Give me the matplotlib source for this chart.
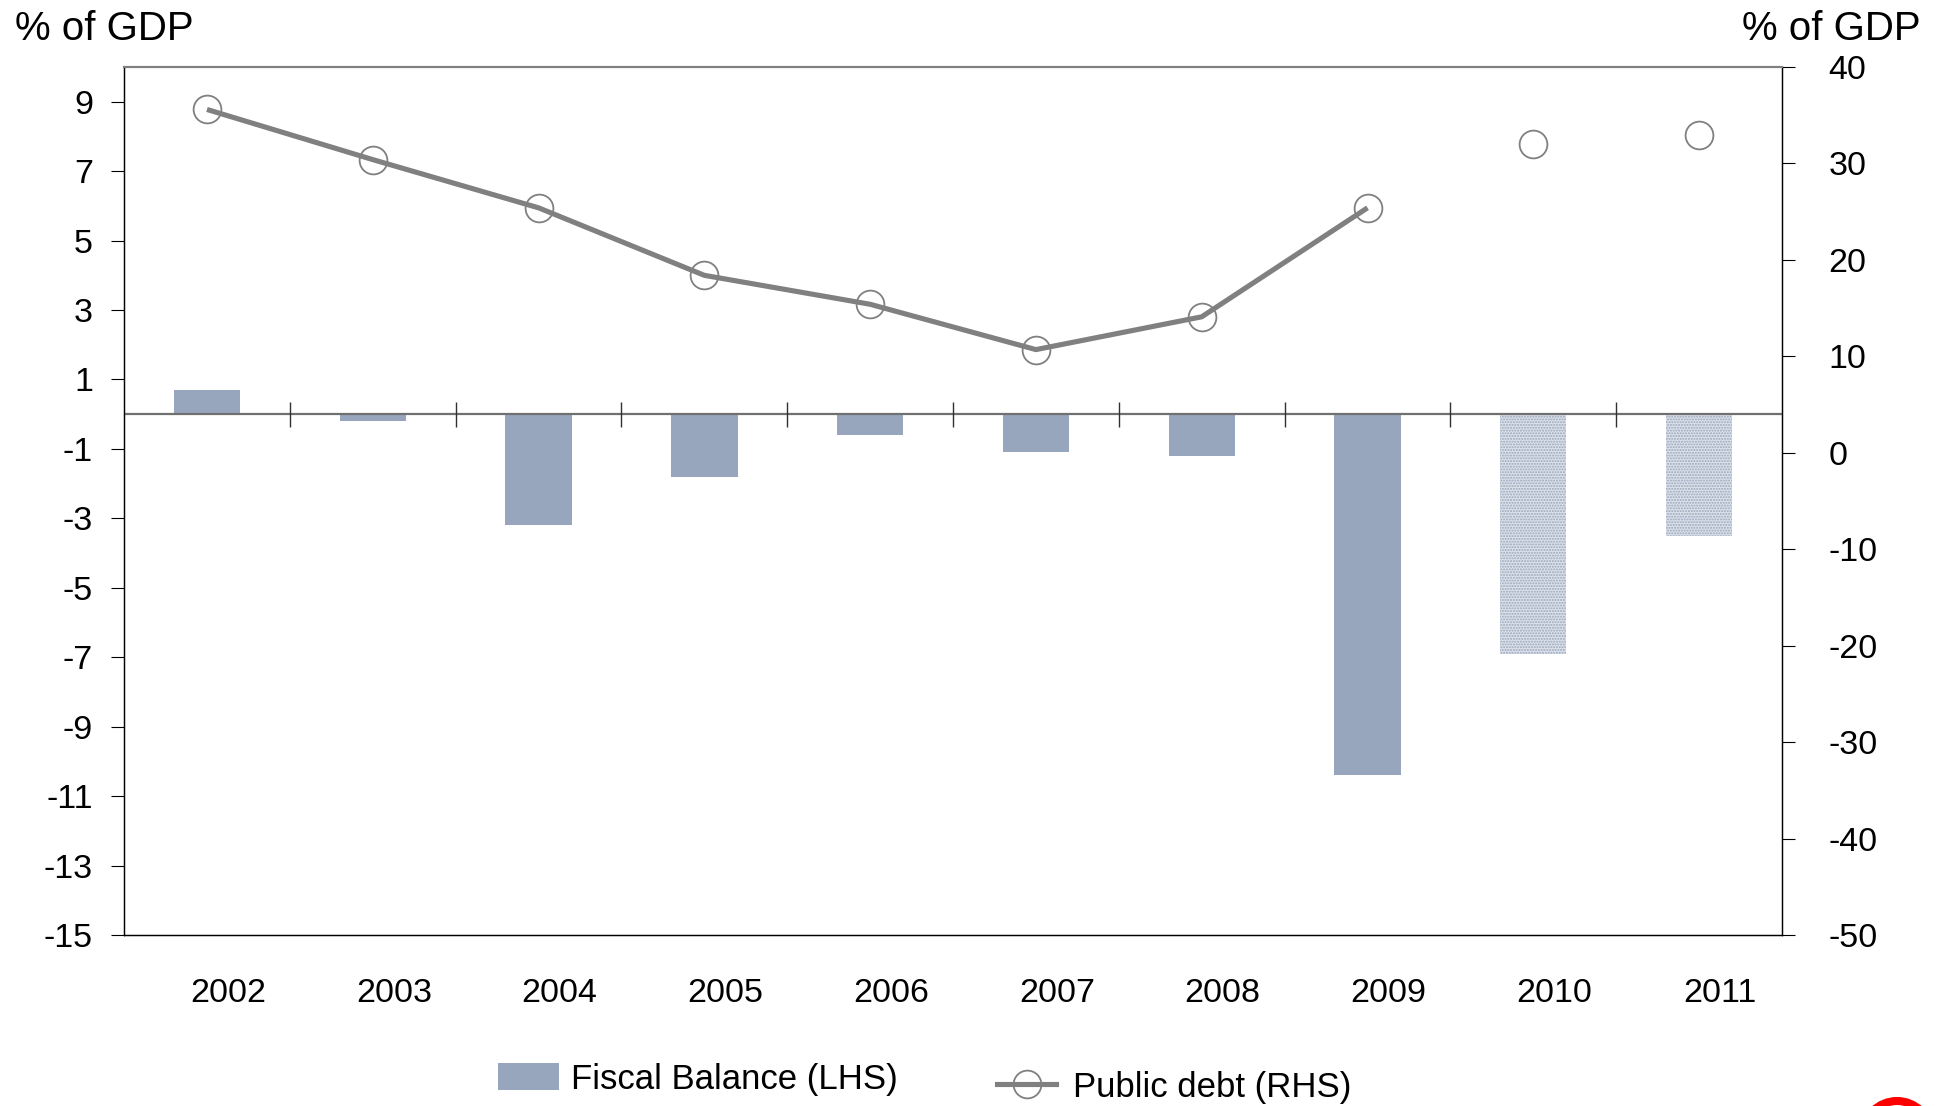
import numpy as np
import matplotlib
matplotlib.use("Agg")
import matplotlib.pyplot as plt
import matplotlib.transforms as mtransforms
from matplotlib.patches import Patch, Circle
from matplotlib.lines import Line2D

# ---- data ----
years = ["2002", "2003", "2004", "2005", "2006", "2007", "2008", "2009", "2010", "2011"]
fiscal_balance = [0.7, -0.2, -3.2, -1.8, -0.6, -1.1, -1.2, -10.4, -6.9, -3.5]
public_debt = [35.6, 30.4, 25.4, 18.4, 15.4, 10.7, 14.1, 25.4, 32.0, 32.9]
projection = [False, False, False, False, False, False, False, False, True, True]
left_ticks = list(range(-15, 10, 2))
right_ticks = list(range(-50, 41, 10))

plt.rcParams['font.family'] = ['Liberation Sans', 'DejaVu Sans']
plt.rcParams['hatch.linewidth'] = 1.0

BAR = '#97A6BC'
GREY = '#808080'
FS = 24.5
LFS = 25

fig = plt.figure(figsize=(19.42, 11.06), dpi=100)
ax = fig.add_axes([0.0639, 0.1546, 0.9176 - 0.0639, 0.9394 - 0.1546])
ax2 = ax.twinx()

x = np.arange(len(years))
proj = np.array(projection)
fb = np.array(fiscal_balance)
debt = np.array(public_debt)

# bars
ax.bar(x[~proj], fb[~proj], width=0.4, color=BAR, linewidth=0, zorder=2)
ax.bar(x[proj], fb[proj], width=0.4, facecolor='#dde2ea', edgecolor=BAR,
       hatch='......', linewidth=0, zorder=2)

# zero line and category-boundary ticks
ax.axhline(0, color='#707070', linewidth=1.6, zorder=3)
bounds = x[:-1] + 0.5
ax.plot(bounds, np.zeros_like(bounds), linestyle='none', marker='|',
        markersize=18, markeredgewidth=1.0, color='#303030', zorder=4)

ax.set_xlim(-0.5, len(years) - 0.5)
ax.set_ylim(-15, 10)
ax.set_yticks(left_ticks)
ax.set_yticklabels([str(t) for t in left_ticks])
ax.set_xticks(x)
ax.set_xticklabels(years)
ax.tick_params(axis='x', length=0, pad=31, labelsize=FS)
ax.tick_params(axis='y', direction='out', length=9.4, width=0.8, pad=13, labelsize=FS, color='black')
offset = mtransforms.ScaledTranslation(0.21, 0, fig.dpi_scale_trans)
for lab in ax.get_xticklabels():
    lab.set_transform(lab.get_transform() + offset)

# debt line (right axis)
actual = ~proj
ax2.plot(x[actual], debt[actual], color=GREY, linewidth=3.7, zorder=3,
         solid_capstyle='butt')
ax2.plot(x, debt, linestyle='none', marker='o', markersize=20,
         markerfacecolor='none', markeredgecolor=GREY, markeredgewidth=1.3, zorder=4)
ax2.set_ylim(-50, 40)
ax2.set_yticks(right_ticks)
ax2.set_yticklabels([str(t) for t in right_ticks])
ax2.tick_params(axis='y', direction='out', length=9.4, width=0.8, pad=24, labelsize=FS, color='black')
for lab in ax2.get_yticklabels():
    lab.set_horizontalalignment('left')

for a in (ax, ax2):
    a.spines['left'].set_color('black')
    a.spines['left'].set_linewidth(0.9)
    a.spines['right'].set_color('black')
    a.spines['right'].set_linewidth(0.9)
    a.spines['bottom'].set_color('black')
    a.spines['bottom'].set_linewidth(0.9)
    a.spines['top'].set_color(GREY)
    a.spines['top'].set_linewidth(1.5)

# axis titles
fig.text(15 / 1942, 1 - 29 / 1106, '% of GDP', fontsize=29, ha='left', va='center')
fig.text(1921 / 1942, 1 - 29 / 1106, '% of GDP', fontsize=29, ha='right', va='center')

# legends
h1 = Patch(facecolor=BAR, edgecolor='none')
leg1 = fig.legend([h1], ['Fiscal Balance (LHS)'], loc='center left',
                  bbox_to_anchor=(498 / 1942, 1 - 1079 / 1106), frameon=False,
                  fontsize=LFS, handlelength=1.75, handleheight=0.85,
                  handletextpad=0.35, borderpad=0, borderaxespad=0)
h2 = Line2D([], [], color=GREY, linewidth=3.7, marker='o', markersize=20,
            markerfacecolor='none', markeredgecolor=GREY, markeredgewidth=1.3)
leg2 = fig.legend([h2], ['Public debt (RHS)'], loc='center left',
                  bbox_to_anchor=(997 / 1942, 1 - 1087 / 1106), frameon=False,
                  fontsize=LFS, handlelength=1.7, handletextpad=0.5,
                  borderpad=0, borderaxespad=0)

# partial red logo ring at the bottom-right corner
fig.patches.append(Circle((18.97, -0.29), 0.34, transform=fig.dpi_scale_trans,
                          fill=False, edgecolor='red', linewidth=5.8, figure=fig))

fig.savefig('out.png', dpi=100)
